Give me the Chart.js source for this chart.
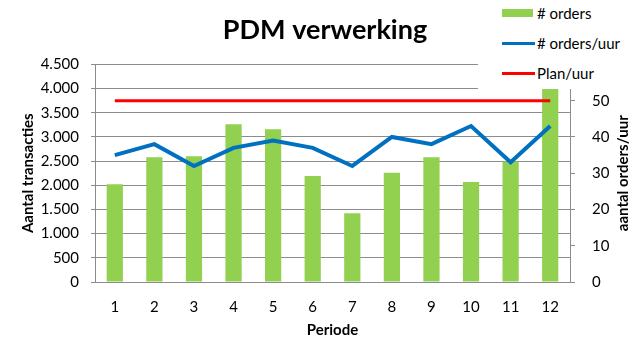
<!DOCTYPE html>
<html>
<head>
<meta charset="utf-8">
<script src="https://cdn.jsdelivr.net/npm/chart.js@4.4.0/dist/chart.umd.min.js"></script>
<style>
  body { margin: 0; background: #fff; }
  #wrap { position: relative; width: 640px; height: 353px; }
  #legend { position: absolute; left: 478px; top: 0; width: 162px; height: 89px; background: #fff;
            font-family: Lato, sans-serif; font-size: 15px; color: #000; }
  .item { position: absolute; left: 24px; height: 18px; line-height: 18px; white-space: nowrap; }
  .item span { position: absolute; left: 35px; top: 0; }
  .box { position: absolute; left: 0; top: 5px; width: 31px; height: 8px; background: #92d050; }
  .ln { position: absolute; left: 0; top: 8px; width: 33px; height: 3px; }
</style>
</head>
<body>
<div id="wrap">
  <canvas id="chart" width="640" height="353"></canvas>
  <div id="legend">
    <div class="item" style="top:4px"><div class="box"></div><span># orders</span></div>
    <div class="item" style="top:34px"><div class="ln" style="background:#0070c0"></div><span># orders/uur</span></div>
    <div class="item" style="top:64px"><div class="ln" style="background:#ff0000"></div><span>Plan/uur</span></div>
  </div>
</div>
<script>
const periods = ['1', '2', '3', '4', '5', '6', '7', '8', '9', '10', '11', '12'];
const orders = [2020, 2580, 2600, 3260, 3160, 2190, 1420, 2260, 2580, 2070, 2490, 4000];
const ordersPerHour = [35, 38, 32, 37, 39, 37, 32, 40, 38, 43, 33, 43];
const planPerHour = [50, 50, 50, 50, 50, 50, 50, 50, 50, 50, 50, 50];

const font = 'Lato';
const gridColor = '#8c8c8c';

function dots(v) {
  return String(v).replace(/\B(?=(\d{3})+(?!\d))/g, '.');
}

// right axis title reads bottom-to-top like the left one
const rightTitle = {
  id: 'rightTitle',
  afterDraw(chart) {
    const ctx = chart.ctx;
    const area = chart.chartArea;
    ctx.save();
    ctx.translate(chart.scales.y1.right - 17, (area.top + area.bottom) / 2);
    ctx.rotate(-Math.PI / 2);
    ctx.font = 'bold 15px ' + font;
    ctx.textAlign = 'center';
    ctx.textBaseline = 'middle';
    ctx.fillStyle = '#000';
    ctx.fillText('aantal orders/uur', 0, 0);
    ctx.restore();
  }
};

new Chart(document.getElementById('chart'), {
  data: {
    labels: periods,
    datasets: [
      { type: 'line', label: 'Plan/uur', data: planPerHour, yAxisID: 'y1',
        borderColor: '#ff0000', borderWidth: 3, pointRadius: 0, tension: 0, order: 1 },
      { type: 'line', label: '# orders/uur', data: ordersPerHour, yAxisID: 'y1',
        borderColor: '#0070c0', borderWidth: 4, pointRadius: 0, tension: 0, order: 2 },
      { type: 'bar', label: '# orders', data: orders, yAxisID: 'y',
        backgroundColor: '#92d050', barPercentage: 0.41, categoryPercentage: 1, order: 3 }
    ]
  },
  options: {
    responsive: false,
    animation: false,
    layout: { padding: { left: 10, right: 0, top: 0, bottom: 14 } },
    plugins: {
      legend: { display: false },
      tooltip: { enabled: false },
      title: {
        display: true, text: 'PDM verwerking', color: '#000',
        font: { family: font, size: 27, weight: 'bold' },
        padding: { top: 14, bottom: 18 }
      }
    },
    scales: {
      x: {
        offset: true,
        grid: { display: false },
        border: { display: true, color: gridColor },
        ticks: { color: '#000', font: { family: font, size: 15 }, padding: 8 },
        title: { display: true, text: 'Periode', color: '#000',
                 font: { family: font, size: 15, weight: 'bold' }, padding: { top: 4, bottom: 0 } },
        afterFit(s) { s.height = 57; }
      },
      y: {
        position: 'left',
        min: 0, max: 4500,
        ticks: { stepSize: 500, color: '#000', font: { family: font, size: 15 }, padding: 12,
                 callback: v => dots(v) },
        grid: { color: gridColor, tickLength: 4 },
        border: { color: gridColor },
        title: { display: true, text: 'Aantal transacties', color: '#000',
                 font: { family: font, size: 15, weight: 'bold' }, padding: { top: 9, bottom: 0 } },
        afterFit(s) { s.width = 85; }
      },
      y1: {
        position: 'right',
        min: 0, max: 60,
        ticks: { stepSize: 10, color: '#000', font: { family: font, size: 15 }, padding: 17 },
        grid: { drawOnChartArea: false, color: gridColor, tickLength: 5 },
        border: { color: gridColor },
        afterFit(s) { s.width = 70; }
      }
    }
  },
  plugins: [rightTitle]
});
</script>
</body>
</html>
